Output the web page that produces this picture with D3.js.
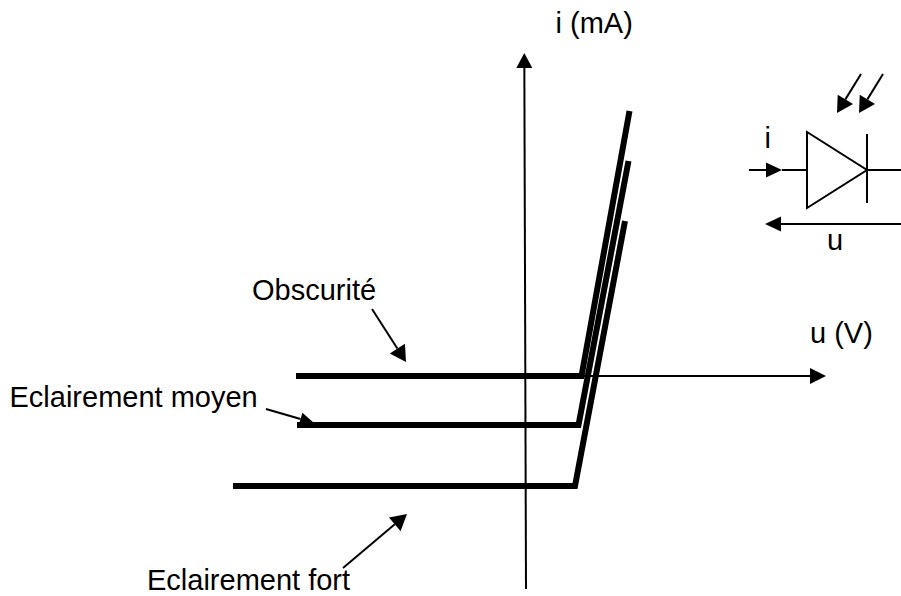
<!DOCTYPE html>
<html>
<head>
<meta charset="utf-8">
<script src="https://d3js.org/d3.v7.min.js"></script>
<style>
  html, body { margin: 0; padding: 0; background: #fff; }
  svg { display: block; }
  text { font-family: "Liberation Sans", Arial, sans-serif; font-size: 29px; fill: #000; }
</style>
</head>
<body>
<svg id="chart" width="901" height="596"></svg>
<script>
// one unit = 10px, origin where the axes cross
let obscuriteU = [-23.0, 5.55, 10.35];
let obscuriteI = [0, 0, 26.5];
let moyenU = [-22.9, 5.25, 10.25];
let moyenI = [-4.9, -4.9, 21.5];
let fortU = [-29.3, 4.9, 9.9];
let fortI = [-11.0, -11.0, 15.5];

let curves = [
    {u: obscuriteU, i: obscuriteI},
    {u: moyenU, i: moyenI},
    {u: fortU, i: fortI}
];

let svg = d3.select('#chart');

let x = d3.scaleLinear().domain([-52.6, 37.5]).range([0, 901]);
let y = d3.scaleLinear().domain([37.6, -22]).range([0, 596]);

let line = d3.line()
    .x(d => x(d[0]))
    .y(d => y(d[1]))
    .curve(d3.curveLinear);

// thin line ended by a filled head, the tip sits on (x2, y2)
function arrow(x1, y1, x2, y2, len, half, width) {
    let a = Math.atan2(y2 - y1, x2 - x1);
    let bx = x2 - len * Math.cos(a);
    let by = y2 - len * Math.sin(a);
    svg.append('line')
        .attr('x1', x1).attr('y1', y1).attr('x2', bx).attr('y2', by)
        .attr('stroke', '#000').attr('stroke-width', width || 2);
    svg.append('polygon')
        .attr('points', [
            [x2, y2],
            [bx - half * Math.sin(a), by + half * Math.cos(a)],
            [bx + half * Math.sin(a), by - half * Math.cos(a)]
        ].join(' '))
        .attr('fill', '#000');
}

// axes, the vertical one leans a little in the original
arrow(x(0), 589, x(0) - 1.7, 53, 15, 8);
arrow(582, y(0), 826, y(0), 16, 8);

// characteristics
svg.selectAll('path.curve')
    .data(curves)
    .enter()
    .append('path')
    .attr('class', 'curve')
    .attr('d', d => line(d.u.map((v, k) => [v, d.i[k]])))
    .attr('fill', 'none')
    .attr('stroke', '#000')
    .attr('stroke-width', 6)
    .attr('stroke-linejoin', 'miter');

// callouts
arrow(372, 309, 406, 362, 16, 9);
arrow(266, 409, 314, 423, 14, 6.5);
arrow(343, 568, 407, 514, 16, 9);

// diode
svg.append('polygon')
    .attr('points', '807,132 807,208 867,170')
    .attr('fill', 'none').attr('stroke', '#000').attr('stroke-width', 2);
svg.append('line').attr('x1', 867).attr('y1', 134).attr('x2', 867).attr('y2', 203)
    .attr('stroke', '#000').attr('stroke-width', 2);
svg.append('line').attr('x1', 867).attr('y1', 170).attr('x2', 901).attr('y2', 170)
    .attr('stroke', '#000').attr('stroke-width', 2);
arrow(749, 170, 782, 170, 16, 7.5);
svg.append('line').attr('x1', 782).attr('y1', 170).attr('x2', 807).attr('y2', 170)
    .attr('stroke', '#000').attr('stroke-width', 2);
arrow(901, 224, 765, 224, 16, 7.5);
arrow(861, 74, 837, 113, 16, 9);
arrow(883, 74, 859, 113, 16, 9);

// labels
let labels = [
    ['i (mA)', 555.5, 33],
    ['u (V)', 810, 343],
    ['i', 764.5, 148],
    ['u', 827, 250],
    ['Obscurité', 252, 300],
    ['Eclairement moyen', 9.5, 407],
    ['Eclairement fort', 147, 589.8]
];
svg.selectAll('text')
    .data(labels)
    .enter()
    .append('text')
    .attr('x', d => d[1])
    .attr('y', d => d[2])
    .text(d => d[0]);
</script>
</body>
</html>
